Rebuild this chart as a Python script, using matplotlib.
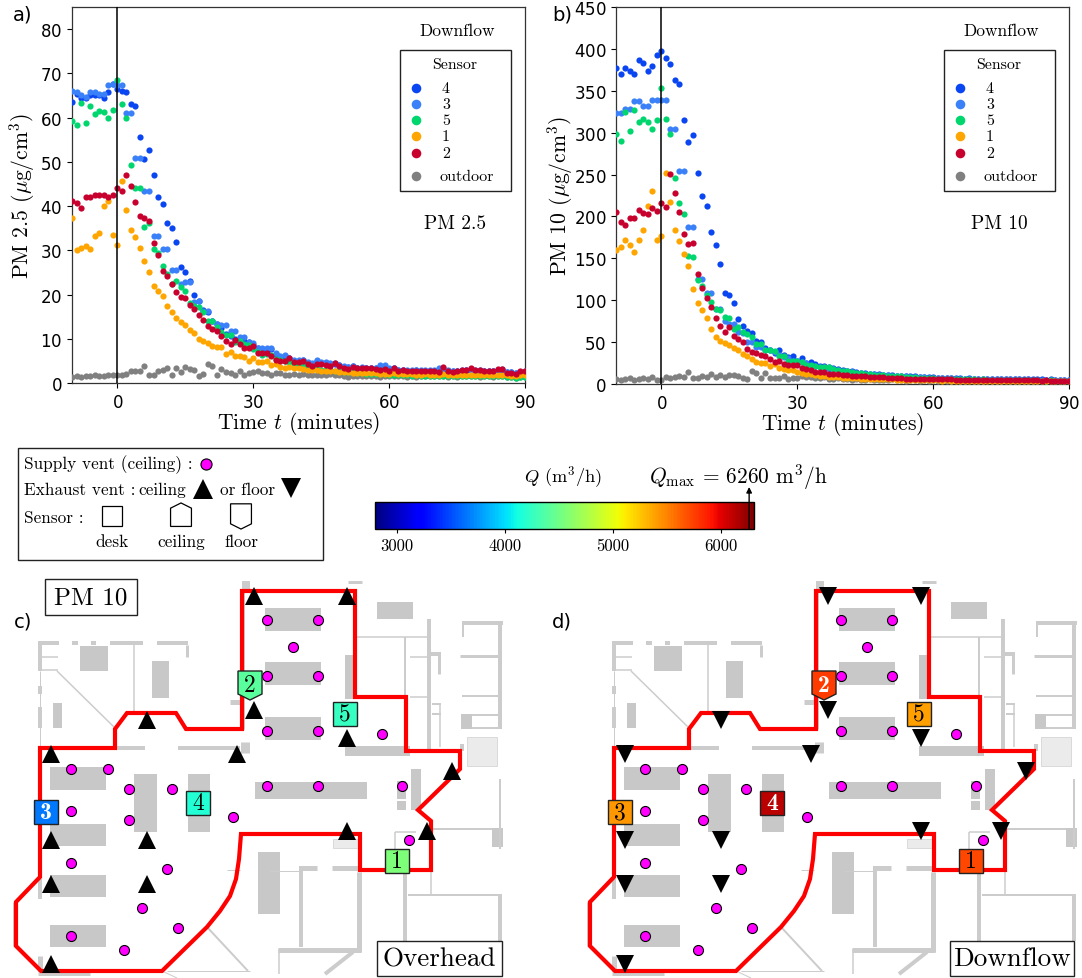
import numpy as np
import matplotlib
matplotlib.use("Agg")
import matplotlib.pyplot as plt
from matplotlib.patches import Polygon, Rectangle
from matplotlib.cm import ScalarMappable
from matplotlib.colors import Normalize

W, H = 1082, 979
plt.rcParams['mathtext.fontset'] = 'cm'
plt.rcParams['axes.formatter.use_mathtext'] = True
SERIF = 'cmr10'

minutes = np.arange(-10, 91)

pm25_s4 = [63.5,65.3,64.5,64.4,65,65,65.2,64.5,65.7,67.6,
 66.5,66.1,65.7,63,62.6,55.6,50.7,52.7,47,42,
 40.5,36.2,35,31.8,26.2,25,23,20,18.6,16.4,
 16,14,13.4,12.4,11,10.7,10,9.6,9.4,9.2,
 8.5,8,7.7,7.7,7.7,6.6,5.8,6,5.7,5,
 5,5.2,4.6,4.3,5,4.5,4.5,4.4,4.2,4,
 3.7,3.6,3.8,3.4,3.5,3.4,3.4,3.3,3.6,3.5,
 3.1,3.3,3,2.9,2.8,2.8,2.9,2.8,2.8,2.8,
 2.7,3.1,3,2.7,2.6,2.7,2.8,2.9,3,2.8,
 2.8,2.7,2.6,2.7,2.9,3,2.5,2.4,2.3,2.5,2.5]
pm25_s3 = [66,65.8,65,64.7,65.7,65.7,65.3,65.3,67.3,67.5,
 67.3,67.3,61.1,61.1,50.8,50.8,43.3,43.3,33.2,33.2,
 30.3,30.3,25.6,25.6,22.4,22.8,22.8,18.3,18.6,16.2,
 16.2,14,13.4,13.2,13.2,11.8,11.8,10.5,10.5,9.2,
 9,8,7.8,7.8,7.9,6.8,6.2,6.3,5.7,5.2,
 5.2,5.3,4.7,4.5,5.2,4.7,4.7,4.5,4.5,4.1,
 3.9,3.7,3.9,3.5,3.6,3.5,3.5,3.4,4,4,
 3.3,3.5,3,3,2.9,2.9,3,3,3,3,
 3,3.5,3.3,3,2.8,2.8,2.9,3,3,2.9,
 2.9,2.8,2.7,2.8,3,3.1,2.5,2.5,2.3,2.5,2.6]
pm25_s5 = [59.3,58.3,63.2,58.7,62.6,60.7,61.5,61.2,60,61.8,
 68.6,63.1,60,49.3,44.1,44,35.3,36.2,30.2,29.5,
 26.5,24.7,22.4,23,21.6,20.7,18,17.5,17.1,16,
 14.1,14.1,12.6,11.5,10.9,10.9,9.2,9.5,8.8,8.5,
 7.7,7,6.4,6.6,6.3,5.5,5.3,5,4.7,4.2,
 4.1,3.8,3.5,3.2,3.3,3,2.9,2.9,2.7,2.6,
 2.5,2.4,2.4,2.2,2.3,2.1,2.1,2,2,2,
 1.8,1.9,1.8,1.7,1.7,1.6,1.7,1.6,1.6,1.6,
 1.5,1.5,1.6,1.5,1.5,1.6,1.6,1.6,1.5,1.6,
 1.6,1.5,1.5,1.6,1.5,1.5,1.4,1.3,1.2,1.4,1.4]
pm25_s1 = [37.3,30,30.5,31,30.3,33.2,34,40.1,41.2,33.4,
 31.2,45.6,39.2,34.6,33.1,30.5,27.5,25,22,20.7,
 19.7,17.4,16,14.6,13.7,13,11.9,11.3,10,9.6,
 9,8.3,8.2,8.1,6.6,7,6,6,5.8,5,
 5.6,4.7,4.8,4.9,4.1,4.2,3.6,3.5,3.7,3.3,
 3.4,3.2,3,2.9,3,2.8,2.8,2.7,2.6,2.5,
 2.4,2.4,2.3,2.3,2.3,2.2,2.2,2.2,2.1,2.1,
 2,2.3,2,2,2,2,1.9,1.9,2,1.9,
 1.9,1.9,2,1.9,1.8,1.8,1.9,1.9,1.9,1.8,
 1.8,1.8,1.8,1.9,1.9,1.9,1.7,1.6,1.5,1.7,1.8]
pm25_s2 = [41.2,40.8,39.5,42.1,42,42.4,42.6,42.5,42.1,42.6,
 44,43.4,47.1,44.5,40.9,37.7,37.2,36.7,31.6,29,
 25.3,24.3,22.3,20.5,19.5,19.2,17.7,16.8,15.3,14.3,
 12.8,12.2,11.7,10.6,9.4,8.9,9.7,8.9,7.8,7.9,
 8.3,6.8,6.7,6.7,6,5.2,5,5,5.6,4.8,
 4.8,5,4.4,3.8,4.4,4.3,4.1,3.8,4.5,3.8,
 3.4,3.2,3.7,3.3,3.4,3.4,3.3,3.2,3,3.2,
 2.7,3.5,2.8,2.9,2.6,2.6,2.8,2.7,2.8,2.8,
 2.7,2.4,3.7,2.6,2.4,2.8,2.9,3,3.3,2.9,
 2.9,2.7,2.6,2.8,3.1,3.1,2.3,2.3,2,2.6,2.6]
pm25_out = [1.4,1.5,1.4,1.5,1.5,1.7,1.5,1.5,1.7,1.7,
 1.7,1.7,2,2.8,2.8,2.6,3.9,1.9,1.8,2.6,
 3,3.3,1.9,3.4,2.4,3.7,3.1,3,1.5,2,
 4.3,3.9,1.9,3.2,2.4,2.2,1.7,2.8,1.9,2.3,
 2.4,2.8,2.2,2.2,1.7,2.2,2.2,1.7,1.9,2,
 1.8,2,1.9,1.8,1.9,1.9,1.9,2,1.9,1.7,
 1.5,1.4,1.5,1.6,1.5,1.5,1.6,1.5,1.4,1.6,
 1.6,1.5,1.6,1.5,1.3,1.5,1.4,1.5,1.6,1.5,
 1.5,1.6,1.5,1.4,1.5,1.4,1.5,1.6,1.5,1.5,
 1.4,1.6,1.5,1.4,1.5,1.5,1.4,1.3,1.2,1.3,1.4]

pm10_s4 = [377.6,370,377.6,374,370.4,386.8,382.8,374,379,392.8,
 397.6,389,381.6,363,357.6,315,288.8,297.6,252.4,224,
 213,181,166.4,143,108.7,106,97,77.6,69,63.7,
 60.5,51.7,50.5,43,41,36.6,40.6,35,32.6,33,
 27.9,31,25,25.9,23.5,21.9,21.9,20.7,19,18.5,
 17,16,15,14.5,13.5,13,12.5,12,11.5,11,
 11,10.5,10,9.5,9.5,9,9,8.5,8.5,8,
 8,7.5,7.5,7,7.5,7,7,6.5,7,6.5,
 6.5,6.5,6,6,6.5,6,6,6,6,5.5,
 5.5,6,5.5,5.5,5.5,5,5.5,5,5,5,5]
pm10_s3 = [323.2,323.2,328.8,328.8,338,338,332,332,338.8,338.8,
 338.8,338.8,304.8,304.8,254.4,254.4,187.5,187.5,125,125,
 108.7,108.7,89.5,89.5,74.8,71.6,71.6,61.7,61,49.8,
 49.8,43.8,43.8,40.6,40,37.8,35,31.8,30.6,27.9,
 27,25.9,25,22,22,20,20,18.5,18,16.5,
 15.5,15,14,13.5,13,12,12,11.5,11,10.5,
 10.5,10,9.5,9,9,8.5,8.5,8,8,7.5,
 7.5,7,7,7,7,6.5,6.5,6.5,6.5,6,
 6,6,6,5.5,6,5.5,5.5,5.5,5.5,5.5,
 5,5.5,5,5,5,5,5,4.5,4.5,4.5,5]
pm10_s5 = [298,289.6,324.4,302,326.8,312.8,316,312.8,304.8,315,
 353,316,298.8,245.6,216,203.5,152.4,152,124.6,116.6,
 106,98,89.5,88,80,79,65.7,67.7,62.5,59.7,
 56,47.8,47.4,40.6,40,39,33.8,33,27.9,27.5,
 27,25.9,23,22.7,21.9,20,20.7,20,18,17,
 16,15,14,13.5,13,12.5,12,11,11,10.5,
 10,9.5,9,9,8.5,8,8,7.5,7.5,7,
 7,6.5,6.5,6,6.5,6,6,5.5,5.5,5.5,
 5,5.5,5,5,5,5,5,4.5,5,4.5,
 4.5,4.5,4.5,4.5,4,4,4.5,4,4,4,4]
pm10_s1 = [160,163,171.6,165.6,158,172.4,184.4,212.8,230.4,171.6,
 176.4,252.4,216.8,184,170.5,155.6,140.9,113.4,96.7,88.8,
 79,65.7,56,51,49,46.6,43,40,36,33.4,
 29.9,26.7,25,24.7,21.9,23.5,19,17.9,16.7,16.3,
 14.3,13,12.3,11.9,10.8,10,9.2,8.8,8.5,8,
 7.5,7.5,7,7,6.5,6.5,6,6,6,5.5,
 5.5,5.5,5,5,5,5,5,4.5,4.5,4.5,
 4.5,4.5,4,4.5,4,4,4,4,4,4,
 4,3.5,4,3.5,3.5,3.5,4,3.5,3.5,3.5,
 3.5,3.5,3.5,3.5,3,3.5,3,3,3,3,3]
pm10_s2 = [204.8,193.6,189.6,198,198.4,208,204,202.4,209.6,207,
 216.4,210.8,250.4,228,204.8,178.8,167,168,131.7,114.6,
 102.3,92,78.8,68.9,62.5,68.5,57.7,54,49.8,41.8,
 38.6,37,35,33,29.9,26.7,27.5,23.5,22.7,23,
 22.3,19,17.5,16.7,14.7,14.3,13.9,12,12,11.5,
 11,10.5,10,9.5,9.5,9,8.5,8.5,8,8,
 7.5,7.5,7,7,6.5,6.5,6.5,6,6,6,
 5.5,6,5.5,5.5,5.5,5,5,5,5,5,
 5,4.5,5,4.5,4.5,4.5,5,4.5,4.5,4.5,
 4.5,4.5,4.5,4.5,4,4.5,4,4,4,4,4]
pm10_out = [6,5,6,7,5,6,7,6,8,5,
 4.8,8,6.8,8.8,9,8,14,7,7.6,9,
 8,12,8,11,8,10.7,11,9,6.8,5.6,
 15.5,13,7.6,13.5,7.6,7.2,7.2,9.6,6,6.8,
 7.6,10,8,8.4,7.6,6.8,8,6,6,7,
 6,6,5,6,5,5,6,5,5,5,
 5,6,5,5,4,5,5,4,5,4,
 5,4,5,4,4,5,4,4,5,4,
 4,4,5,4,4,4,5,4,4,3,
 4,4,3,4,4,3,4,4,3,3,4]

series_labels = ['4', '3', '5', '1', '2', 'outdoor']
series_colors = ['#0a45f2', '#3a80f8', '#00d66e', '#ffa500', '#c8002d', '#808080']

# colour scale
Q_MIN, Q_MAX_AXIS = 2796, 6305
Q_TICKS = [3000, 4000, 5000, 6000]
Q_MAX = 6260
sensor_ids = ['1', '2', '3', '4', '5']
Q_overhead = [4560, 4400, 3650, 4170, 4260]
Q_downflow = [5720, 5760, 5420, 6120, 5390]

# floor plan, in drawing units
boundary = [(242,592),(242,730),(186,730),(176,714),(127,714),(115,730),(115,749),(40,749),(40,878),
 (16,903),(16,947),(41,972),(162,972),(207,928),(220,912),(230,897),(236,880),(239,860),(241,835),
 (360,835),(360,871),(431,871),(431,822),(418,811),(460,770),(460,752),(406,752),(406,698),(355,698),(355,592)]
desks = [(265,609,56,23),(265,663,56,23),(265,718,56,23),(377,603,36,17),(345,656,10,44),
 (80,647,28,25),(152,662,17,37),(53,704,9,25),
 (50,768,56,23),(50,825,56,22),(50,876,56,22),(50,926,56,22),
 (134,775,23,58),(188,775,22,58),(255,783,112,17),(258,853,22,62),
 (397,782,9,18),(397,802,9,9),(411,770,10,41),(492,829,11,19),(461,715,11,15),
 (345,747,65,10)]
hatched = [(333,840,27,9),(467,738,30,29)]
walls = [(38,644,59,644,4),(72,644,78,644,4),(91,644,96,644,4),(110,644,143,644,4),(157,644,188,644,4),
 (187,646,187,658,3),(57,672,115,729,1.5),(134,646,134,713,1.5),(40,646,40,672,4),(40,658,58,658,1.5),
 (40,671,58,671,1.5),(40,687,40,695,4),(40,708,40,729,4),(40,672,40,749,1),
 (117,749,145,749,4),(178,749,240,749,4),(245,743,245,754,9),(230,703,242,703,5),(246,582,246,590,8),
 (243,592,243,730,3),(348,583,362,583,3),(357,638,427,638,1.5),(405,638,405,750,2),(410,658,427,658,1.5),
 (410,698,427,698,1.5),(429,620,429,750,4),(427,655,441,655,4),(439,654,439,675,3),
 (462,624,503,624,4),(463,622,463,638,2),(500,622,500,730,4),(460,657,498,657,3),(462,697,498,697,2),
 (472,716,498,716,2),(472,729,498,729,2),(432,705,441,705,2),(440,705,440,748,1.5),(432,715,441,715,2),
 (462,745,462,752,4),
 (500,780,500,850,2),(433,830,492,830,2),(408,896,502,896,2),(500,895,500,942,4),
 (405,873,405,942,4),(431,873,431,895,1.5),(359,873,359,953,5),(301,867,301,948,4),(300,869,317,869,5),
 (332,869,360,869,5),(278,951,361,951,5),(279,950,279,975,1.5),(325,975,353,953,4),(270,872,299,872,1),
 (395,833,395,850,1.5),(395,833,416,833,1.5),(227,871,240,871,1),(207,928,248,972,2),(167,972,250,972,1),
 (162,972,177,979,1),(40,880,40,900,4),(14,903,14,947,3),(40,957,40,973,5),(38,975,90,975,3)]
supply_x = [267,318,293,267,318,267,318,382,71,108,129,172,233,402,71,129,167,71,142,178,71,124,409,267,318]
supply_y = [621,621,648,677,677,732,732,735,770,770,790,790,818,787,812,821,870,864,909,929,937,951,841,787,787]
exhaust_x = [254,347,147,254,347,51,237,452,51,147,347,427,51,147,51]
exhaust_y = [597,597,721,711,739,755,755,772,841,841,832,832,885,885,965]
sensor_x = [397,250,46,198,345]
sensor_y = [862,686,813,804,715]
sensor_kind = ['desk','floor','desk','desk','desk']
SHAPE = {'desk': [(-12,-12),(12,-12),(12,12),(-12,12)],
         'ceiling': [(0,-15),(12,-9),(12,12),(-12,12),(-12,-9)],
         'floor': [(-12,-14),(12,-14),(12,9),(0,15),(-12,9)]}

fig = plt.figure(figsize=(W/100, H/100), dpi=100)
def ax_px(l, t, r, b, **kw):
    return fig.add_axes([l/W, 1-b/H, (r-l)/W, (b-t)/H], **kw)

ov = ax_px(0, 0, W, H, zorder=5)
ov.set_xlim(0, W); ov.set_ylim(H, 0); ov.axis('off'); ov.patch.set_alpha(0)

def time_panel(l, t, r, b, ymax, yticks, series, ylabel, pmname, tag, tagx, ylx):
    ax = ax_px(l, t, r, b)
    ax.set_xlim(-10, 90); ax.set_ylim(0, ymax)
    for idx in [5, 0, 1, 2, 3, 4]:
        ax.scatter(minutes, series[idx], s=20, color=series_colors[idx], linewidths=0, clip_on=True, zorder=3)
    ax.axvline(0, color='k', lw=1.1, zorder=4)
    ax.set_xticks([0, 30, 60, 90]); ax.set_yticks(yticks)
    ax.tick_params(labelsize=12, length=3.5, width=0.8)
    ax.set_xlabel(r'Time $t$ (minutes)', fontfamily=SERIF, fontsize=15.6, labelpad=-1)
    ax.set_ylabel(ylabel, fontfamily=SERIF, fontsize=15.6)
    ax.yaxis.set_label_coords((ylx-l)/(r-l), 0.5)
    for s in ax.spines.values():
        s.set_linewidth(0.9); s.set_color('#333333')
    ov.text(tagx, 15, tag, fontsize=14, ha='left', va='center')
    dx = l - 72
    ov.add_patch(Rectangle((400+dx, 51), 111, 141, fc='white', ec='#222222', lw=1))
    ov.text(457+dx, 31, 'Downflow', family=SERIF, fontsize=12.5, ha='center', va='center')
    ov.text(455+dx, 65, 'Sensor', family=SERIF, fontsize=11.4, ha='center', va='center')
    ys = [89, 105, 121, 137, 154, 177]
    for lab, c, y in zip(series_labels, series_colors, ys):
        ov.scatter([416+dx], [y], s=48, color=c, linewidths=0)
        if lab == 'outdoor':
            ov.text(440+dx, y, lab, family=SERIF, fontsize=11.5, ha='left', va='center')
        else:
            ov.text(446+dx, y, lab, family=SERIF, fontsize=11.5, ha='center', va='center')
    ov.text(455+dx, 224, pmname, family=SERIF, fontsize=13.9, ha='center', va='center')
    return ax

time_panel(72, 8, 525, 384, 85, [0,10,20,30,40,50,60,70,80],
           [pm25_s4, pm25_s3, pm25_s5, pm25_s1, pm25_s2, pm25_out],
           r'PM 2.5 ($\mu$g/cm$^3$)', 'PM 2.5', 'a)', 13, 37)
time_panel(616, 8, 1069, 385, 450, [0,50,100,150,200,250,300,350,400,450],
           [pm10_s4, pm10_s3, pm10_s5, pm10_s1, pm10_s2, pm10_out],
           r'PM 10 ($\mu$g/cm$^3$)', 'PM 10', 'b)', 552, 575)

# key box
KEYFONT = 12.4
ov.add_patch(Rectangle((18, 449), 305, 112, fc='white', ec='#222222', lw=1))
ov.text(24, 465, 'Supply vent (ceiling) :', family=SERIF, fontsize=KEYFONT, va='center')
ov.plot([206], [465], 'o', ms=8, mfc='#ff00ff', mec='k', mew=0.8)
ov.text(24, 490, 'Exhaust vent :', family=SERIF, fontsize=KEYFONT, va='center')
ov.text(138, 490, 'ceiling', family=SERIF, fontsize=KEYFONT, va='center')
ov.plot([203], [490], '^', ms=14.5, color='k', mew=0)
ov.text(220, 490, 'or floor', family=SERIF, fontsize=KEYFONT, va='center')
ov.plot([291], [489], 'v', ms=14.5, color='k', mew=0)
ov.text(24, 518, 'Sensor :', family=SERIF, fontsize=KEYFONT, va='center')
for kind, x, lab in [('desk', 112, 'desk'), ('ceiling', 181, 'ceiling'), ('floor', 241, 'floor')]:
    pts = [(x+px*0.87, 517+py*0.87) for px, py in SHAPE[kind]]
    ov.add_patch(Polygon(pts, closed=True, fc='white', ec='k', lw=0.9))
    ov.text(x, 542, lab, family=SERIF, fontsize=KEYFONT, ha='center', va='center')

# colour bar
jet = plt.get_cmap('jet')
norm = Normalize(Q_MIN, Q_MAX_AXIS)
cax = ax_px(375, 503, 754, 530)
cb = fig.colorbar(ScalarMappable(norm=norm, cmap=jet), cax=cax, orientation='horizontal')
cb.set_ticks(Q_TICKS)
cb.set_ticklabels([str(v) for v in Q_TICKS], fontfamily=SERIF, fontsize=12)
cax.tick_params(length=3, width=0.8, pad=3)
cb.outline.set_linewidth(1)
ov.text(563, 477, r'$Q$ (m$^3$/h)', family=SERIF, fontsize=13.2, ha='center', va='center')
ov.text(738, 477, r'$Q_{\mathrm{max}}$ = 6260 m$^3$/h', family=SERIF, fontsize=15.4, ha='center', va='center')
qx = 375 + (Q_MAX - Q_MIN) / (Q_MAX_AXIS - Q_MIN) * 379
ov.annotate('', xy=(qx, 488), xytext=(qx, 530),
            arrowprops=dict(arrowstyle='-|>', color='k', lw=1, mutation_scale=8, shrinkA=0, shrinkB=0))

# plans
def boxed(a, x0, y0, x1, y1, text, size, z=6):
    a.add_patch(Rectangle((x0, y0), x1-x0, y1-y0, fc='white', ec='#222222', lw=1, zorder=z, clip_on=False))
    a.text((x0+x1)/2, (y0+y1)/2, text, family=SERIF, fontsize=size, ha='center', va='center', zorder=z+1)

def plan(l, qvals, mode, marker, bx0, bx1):
    ax = ax_px(l, 580, W if l else 540, 979)
    ax.set_xlim(0, (W - l) if l else 540); ax.set_ylim(979, 580); ax.axis('off')
    ax.patch.set_alpha(0)
    for x, y, w, h in desks:
        ax.add_patch(Rectangle((x, y), w, h, fc='#c8c8c8', ec='none', zorder=1))
    for x, y, w, h in hatched:
        ax.add_patch(Rectangle((x, y), w, h, fc='#ebebeb', ec='#d0d0d0', lw=0.5, zorder=1))
    for x1, y1, x2, y2, lw in walls:
        ax.plot([x1, x2], [y1, y2], color='#cccccc', lw=lw*0.72, solid_capstyle='butt', zorder=1)
    ax.add_patch(Polygon(boundary, closed=True, fc='none', ec='#ff0000', lw=3, joinstyle='miter', zorder=2))
    ax.plot(supply_x, supply_y, 'o', ms=7.2, mfc='#ff00ff', mec='k', mew=0.8, ls='none', zorder=3)
    ax.plot(exhaust_x, exhaust_y, marker, ms=12.5, color='k', mew=0, ls='none', clip_on=False, zorder=3)
    for sid, x, y, k, q in zip(sensor_ids, sensor_x, sensor_y, sensor_kind, qvals):
        rgba = jet(norm(q))
        pts = [(x+px, y+py) for px, py in SHAPE[k]]
        ax.add_patch(Polygon(pts, closed=True, fc=rgba, ec='#222222', lw=1, zorder=4))
        dark = sum(rgba[:3]) * 0.33 < 0.42 or q < 3800
        ax.text(x, y, sid, family='cmb10' if dark else SERIF, color='white' if dark else 'k',
                fontsize=17, ha='center', va='center', zorder=5)
    boxed(ax, bx0, 942, bx1, 977, mode, 19.5)

plan(0, Q_overhead, 'Overhead', '^', 377, 502)
plan(574, Q_downflow, 'Downflow', 'v', 376, 500)
boxed(ov, 45, 580, 137, 616, 'PM 10', 18)
ov.text(14, 622, 'c)', fontsize=14, va='center')
ov.text(552, 622, 'd)', fontsize=14, va='center')

fig.savefig('out.png', dpi=100)
